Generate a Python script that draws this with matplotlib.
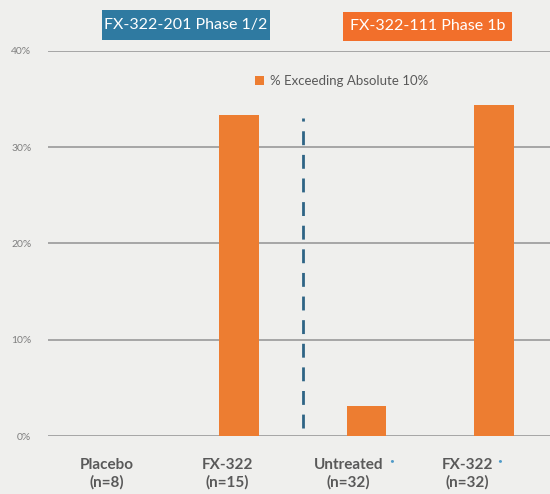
import matplotlib
matplotlib.use("Agg")
import matplotlib.pyplot as plt
from matplotlib.patches import Rectangle

# % of subjects exceeding absolute 10% improvement, per arm
groups = ["Placebo\n(n=8)", "FX-322\n(n=15)", "Untreated\n(n=32)", "FX-322\n(n=32)"]
pct_exceeding = [0.0, 33.3, 3.1, 34.4]
yticks = [0, 10, 20, 30, 40]
ytick_labels = ["0%", "10%", "20%", "30%", "40%"]
study_labels = ["FX-322-201 Phase 1/2", "FX-322-111 Phase 1b"]
legend_label = "% Exceeding Absolute 10%"

BG = "#efefed"
BAR = "#ed7d31"
GRID = "#a6a6a6"
TXT = "#595959"
BLUE = "#2f7aa1"
ORANGE = "#f26f2b"
DASH = "#2e6485"

plt.rcParams["font.family"] = ["Lato", "DejaVu Sans"]

fig = plt.figure(figsize=(5.5, 4.94), dpi=100, facecolor=BG)
ax = fig.add_axes([48 / 550, 1 - 436 / 494, 1 - 48 / 550, (436 - 51) / 494])
ax.set_facecolor(BG)

x = list(range(len(groups)))
ax.bar(x, pct_exceeding, width=0.31, color=BAR, zorder=3, label=legend_label)

ax.set_xlim(-0.5, 3.44)
ax.set_ylim(0, 40)
ax.set_yticks(yticks)
ax.set_yticklabels(ytick_labels, fontsize=7.5, color="#7f7f7f")
ax.yaxis.grid(True, color=GRID, lw=1.4, zorder=0)
ax.tick_params(axis="y", length=0, pad=12)
ax.set_xticks([])
for s in ax.spines.values():
    s.set_visible(False)

# category labels sit a little left of their bars
label_shift = [-0.04, -0.09, -0.14, -0.21]
for xi, lab, dx in zip(x, groups, label_shift):
    ax.text(xi + dx, -2.3, lab, fontsize=11, fontweight="bold", color=TXT,
            ha="center", va="top", linespacing=1.3, clip_on=False)

# divider between the two studies
ax.plot([1.5, 1.5], [0.8, 33.0], ls=(0, (5, 3.5)), color=DASH, lw=2, zorder=2)

# footnote markers next to the phase 1b labels
for xi, dx in ((2, 0.2), (3, 0.045)):
    ax.text(xi + dx, -2.6, "•", color="#4f9ac8", fontsize=6,
            ha="center", va="center", clip_on=False)

leg = ax.legend(loc="upper left", bbox_to_anchor=(0.389, 0.968), frameon=False,
                fontsize=9.5, handlelength=0.7, handleheight=0.7,
                handletextpad=0.4, labelcolor=TXT)

# study header boxes
for (x0, y0, w, h), color, label in (
        ((102, 10, 168, 30), BLUE, study_labels[0]),
        ((343, 12, 169, 29), ORANGE, study_labels[1])):
    fig.patches.append(Rectangle((x0 / 550, 1 - (y0 + h) / 494), w / 550, h / 494,
                                 transform=fig.transFigure, facecolor=color,
                                 edgecolor="none"))
    fig.text((x0 + w / 2) / 550, 1 - (y0 + h / 2) / 494, label, color="white",
             fontsize=11.5, ha="center", va="center")

fig.savefig("out.png", dpi=100, facecolor=BG)
